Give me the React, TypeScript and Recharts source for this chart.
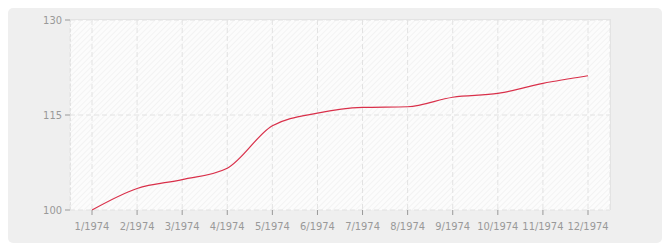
import { LineChart, Line, XAxis, YAxis, CartesianGrid } from "recharts";

const MONTHS = [
    "1/1974", "2/1974", "3/1974", "4/1974", "5/1974", "6/1974",
    "7/1974", "8/1974", "9/1974", "10/1974", "11/1974", "12/1974",
];
const VALUES = [100, 103.4, 104.8, 106.6, 113.3, 115.3, 116.2, 116.3, 117.8, 118.4, 120.0, 121.2];
const Y_TICKS = [100, 115, 130];

const data = MONTHS.map((month, i) => ({ month, value: VALUES[i] }));

const tickStyle = {
    fontSize: 11,
    fill: "#999",
    fontFamily: "'DejaVu Sans Condensed', 'DejaVu Sans', sans-serif",
};

export default function App() {
    return (
        <div
            style={{
                position: "relative",
                width: 654,
                height: 235,
                background: "#efefef",
                borderRadius: 5,
            }}
        >
            <svg width={0} height={0} style={{ position: "absolute" }}>
                <defs>
                    <pattern
                        id="hatch"
                        width={4}
                        height={4}
                        patternUnits="userSpaceOnUse"
                        patternTransform="rotate(45)"
                    >
                        <rect width={4} height={4} fill="#fcfcfc" />
                        <line x1={0} y1={0} x2={0} y2={4} stroke="#f1f1f1" strokeWidth={1.5} />
                    </pattern>
                </defs>
            </svg>
            <div style={{ position: "absolute", left: 0, top: 0 }}>
                <LineChart
                    width={654}
                    height={235}
                    data={data}
                    margin={{ top: 12, right: 52, bottom: 0, left: 0 }}
                    style={{ fontSize: 11 }}
                >
                    <CartesianGrid
                        stroke="#e2e2e2"
                        strokeDasharray="5 3"
                        fill="url(#hatch)"
                        fillOpacity={1}
                    />
                    <XAxis
                        dataKey="month"
                        height={33}
                        padding={{ left: 22, right: 22 }}
                        axisLine={false}
                        tickLine={{ stroke: "#999" }}
                        tickSize={5}
                        tickMargin={7}
                        interval={0}
                        fontSize={11}
                        tick={tickStyle}
                    />
                    <YAxis
                        domain={[100, 130]}
                        ticks={Y_TICKS}
                        width={62}
                        axisLine={false}
                        tickLine={{ stroke: "#999" }}
                        tickSize={5}
                        tickMargin={3}
                        fontSize={11}
                        tick={tickStyle}
                    />
                    <Line
                        type="monotone"
                        dataKey="value"
                        stroke="#d9304a"
                        strokeWidth={1.2}
                        dot={false}
                        isAnimationActive={false}
                    />
                </LineChart>
            </div>
            {/* plot frame: top and right solid, left dashed */}
            <div
                style={{
                    position: "absolute",
                    left: 62,
                    top: 11,
                    width: 541,
                    height: 191,
                    borderTop: "1px solid #e3e3e3",
                    borderRight: "1px solid #e3e3e3",
                    borderLeft: "1px dashed #e2e2e2",
                    boxSizing: "border-box",
                    pointerEvents: "none",
                }}
            />
        </div>
    );
}
